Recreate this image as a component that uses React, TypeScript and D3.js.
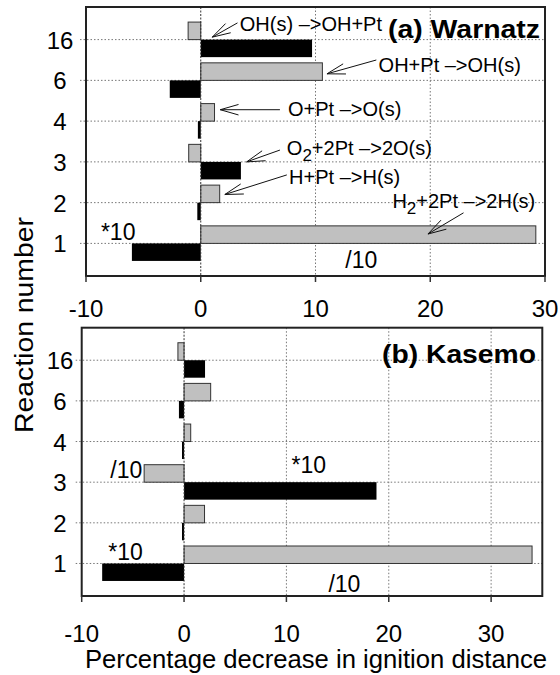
import React, { useEffect, useRef } from 'react';
import * as d3 from 'd3';

// reaction numbers, bottom to top
const reactions = ['1', '2', '3', '4', '6', '16'];

// (a) Warnatz
const warnatzGray = [29.2, 1.65, -1.05, 1.2, 10.6, -1.1];
const warnatzBlack = [-6.0, -0.3, 3.5, -0.25, -2.7, 9.7];

// (b) Kasemo
const kasemoGray = [34.0, 2.0, -3.9, 0.65, 2.6, -0.6];
const kasemoBlack = [-8.0, -0.2, 18.8, -0.2, -0.5, 2.05];

const xTicks = [-10, 0, 10, 20, 30];

// reaction labels of panel (a), positions in [value, row] units
const warnatzNotes = [
    { parts: [['OH(s) –>OH+Pt', 0]], tip: [1.0, 6.06], from: [3.2, 6.41], text: [3.4, 6.2] },
    { parts: [['OH+Pt –>OH(s)', 0]], tip: [11.0, 5.16], from: [15.3, 5.5], text: [15.5, 5.21] },
    { parts: [['O+Pt –>O(s)', 0]], tip: [1.7, 4.28], from: [6.9, 4.28], text: [7.6, 4.13] },
    { parts: [['O', 0], ['2', 1], ['+2Pt –>2O(s)', 0]], tip: [4.0, 3.0], from: [6.9, 3.29], text: [7.5, 3.17] },
    { parts: [['H+Pt –>H(s)', 0]], tip: [2.1, 2.2], from: [7.5, 2.68], text: [7.7, 2.46] },
    { parts: [['H', 0], ['2', 1], ['+2Pt –>2H(s)', 0]], tip: [19.8, 1.23], from: [22.9, 1.75], text: [16.7, 1.86] },
];

const warnatzScales = [
    { label: '*10', at: [-8.7, 1.08] },
    { label: '/10', at: [12.6, 0.4] },
];

const kasemoScales = [
    { label: '*10', at: [10.5, 3.23] },
    { label: '/10', at: [-7.2, 3.1] },
    { label: '*10', at: [-7.4, 1.09] },
    { label: '/10', at: [14.1, 0.3] },
];

const FONT = 'Liberation Sans, Arial, sans-serif';

const App = () => {
    const ref = useRef(null);

    useEffect(() => {
        const svg = d3.select(ref.current);
        svg.selectAll('*').remove();

        const drawPanel = (opts) => {
            const { left, right, top, bottom, domain, gray, black, notes, scales, title, titleX, titleY, titleLen, tickY } = opts;
            const g = svg.append('g');

            const xScale = d3.scaleLinear().domain(domain).range([left, right]);
            const yScale = d3.scaleLinear().domain([0.2, 6.8]).range([bottom, top]);
            const rowGap = yScale(0) - yScale(1);
            const barH = rowGap * 0.43;

            // grid lines
            g.selectAll('.hgrid')
                .data(reactions)
                .enter()
                .append('line')
                .attr('x1', left - 6)
                .attr('x2', right)
                .attr('y1', (d, i) => yScale(i + 1))
                .attr('y2', (d, i) => yScale(i + 1))
                .attr('stroke', '#777')
                .attr('stroke-width', 1)
                .attr('stroke-dasharray', '1.5,2');

            g.selectAll('.vgrid')
                .data(xTicks.filter(t => t > 0 && xScale(t) < right - 2))
                .enter()
                .append('line')
                .attr('x1', d => xScale(d))
                .attr('x2', d => xScale(d))
                .attr('y1', top)
                .attr('y2', bottom)
                .attr('stroke', '#777')
                .attr('stroke-width', 1)
                .attr('stroke-dasharray', '1.5,2');

            // bars
            g.selectAll('.grayBar')
                .data(gray)
                .enter()
                .append('rect')
                .attr('x', d => Math.min(xScale(0), xScale(d)))
                .attr('y', (d, i) => yScale(i + 1) - barH)
                .attr('width', d => Math.abs(xScale(d) - xScale(0)))
                .attr('height', barH)
                .attr('fill', '#c0c0c0')
                .attr('stroke', '#333')
                .attr('stroke-width', 1);

            g.selectAll('.blackBar')
                .data(black)
                .enter()
                .append('rect')
                .attr('x', d => Math.min(xScale(0), xScale(d)))
                .attr('y', (d, i) => yScale(i + 1))
                .attr('width', d => Math.abs(xScale(d) - xScale(0)))
                .attr('height', barH)
                .attr('fill', '#000');

            // zero line
            g.append('line')
                .attr('x1', xScale(0))
                .attr('x2', xScale(0))
                .attr('y1', top)
                .attr('y2', bottom)
                .attr('stroke', '#333')
                .attr('stroke-width', 1)
                .attr('stroke-dasharray', '2,1.5');

            // frame
            g.append('rect')
                .attr('x', left)
                .attr('y', top)
                .attr('width', right - left)
                .attr('height', bottom - top)
                .attr('fill', 'none')
                .attr('stroke', '#222')
                .attr('stroke-width', 2);

            // x ticks
            g.selectAll('.xtick')
                .data(xTicks)
                .enter()
                .append('line')
                .attr('x1', d => xScale(d))
                .attr('x2', d => xScale(d))
                .attr('y1', bottom)
                .attr('y2', bottom + 6)
                .attr('stroke', '#333')
                .attr('stroke-width', 1.5);

            g.selectAll('.xlabel')
                .data(xTicks)
                .enter()
                .append('text')
                .attr('x', d => xScale(d))
                .attr('y', tickY)
                .attr('text-anchor', 'middle')
                .attr('font-family', FONT)
                .attr('font-size', 24)
                .text(d => d);

            // y labels
            g.selectAll('.ylabel')
                .data(reactions)
                .enter()
                .append('text')
                .attr('x', 60)
                .attr('y', (d, i) => yScale(i + 1) + 9)
                .attr('text-anchor', 'middle')
                .attr('font-family', FONT)
                .attr('font-size', 24)
                .text(d => d);

            // panel title
            g.append('text')
                .attr('x', titleX)
                .attr('y', titleY)
                .attr('font-family', FONT)
                .attr('font-weight', 'bold')
                .attr('font-size', 26)
                .attr('textLength', titleLen)
                .attr('lengthAdjust', 'spacingAndGlyphs')
                .text(title);

            // scale factor notes
            g.selectAll('.scaleNote')
                .data(scales)
                .enter()
                .append('text')
                .attr('x', d => xScale(d.at[0]))
                .attr('y', d => yScale(d.at[1]))
                .attr('font-family', FONT)
                .attr('font-size', 23)
                .text(d => d.label);

            // reaction labels with arrows
            notes.forEach(n => {
                const tx = xScale(n.tip[0]);
                const ty = yScale(n.tip[1]);
                const fx = xScale(n.from[0]);
                const fy = yScale(n.from[1]);
                const ang = Math.atan2(fy - ty, fx - tx);
                const len = 19;
                const spread = 0.28;
                const path = d3.path();
                path.moveTo(fx, fy);
                path.lineTo(tx, ty);
                path.moveTo(tx + len * Math.cos(ang - spread), ty + len * Math.sin(ang - spread));
                path.lineTo(tx, ty);
                path.lineTo(tx + len * Math.cos(ang + spread), ty + len * Math.sin(ang + spread));
                g.append('path')
                    .attr('d', path.toString())
                    .attr('fill', 'none')
                    .attr('stroke', '#111')
                    .attr('stroke-width', 1);

                const t = g.append('text')
                    .attr('x', xScale(n.text[0]))
                    .attr('y', yScale(n.text[1]))
                    .attr('font-family', FONT)
                    .attr('font-size', 20);
                let sub = false;
                n.parts.forEach(p => {
                    const isSub = p[1] === 1;
                    let dy = 0;
                    if (isSub && !sub) dy = 6;
                    if (!isSub && sub) dy = -6;
                    sub = isSub;
                    t.append('tspan')
                        .attr('dy', dy)
                        .attr('font-size', isSub ? 17 : 20)
                        .text(p[0]);
                });
            });
        };

        drawPanel({
            left: 86, right: 545, top: 7, bottom: 276,
            domain: [-10, 30],
            gray: warnatzGray, black: warnatzBlack,
            notes: warnatzNotes, scales: warnatzScales,
            title: '(a) Warnatz', titleX: 388, titleY: 38, titleLen: 152,
            tickY: 317
        });

        drawPanel({
            left: 81.7, right: 542.3, top: 327.7, bottom: 596,
            domain: [-10, 35],
            gray: kasemoGray, black: kasemoBlack,
            notes: [], scales: kasemoScales,
            title: '(b) Kasemo', titleX: 382, titleY: 363, titleLen: 154,
            tickY: 642
        });

        // axis titles
        svg.append('text')
            .attr('x', 316)
            .attr('y', 668)
            .attr('text-anchor', 'middle')
            .attr('font-family', FONT)
            .attr('font-size', 25)
            .attr('textLength', 462)
            .attr('lengthAdjust', 'spacingAndGlyphs')
            .text('Percentage decrease in ignition distance');

        svg.append('text')
            .attr('transform', 'translate(33, 325) rotate(-90)')
            .attr('text-anchor', 'middle')
            .attr('font-family', FONT)
            .attr('font-size', 25)
            .attr('textLength', 216)
            .attr('lengthAdjust', 'spacingAndGlyphs')
            .text('Reaction number');
    }, []);

    return (
        <svg
            ref={ref}
            width={560}
            height={675}
            style={{ position: 'absolute', left: 0, top: 0, background: '#fff' }}
        />
    );
};

export default App;
